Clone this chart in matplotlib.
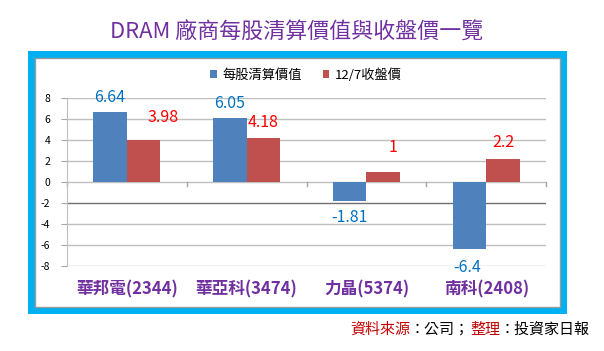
import matplotlib
matplotlib.use("Agg")
import matplotlib.pyplot as plt
from matplotlib.patches import Rectangle
import numpy as np

plt.rcParams["font.family"] = ["Noto Sans CJK TC", "DejaVu Sans"]

# data
categories = ["華邦電(2344)", "華亞科(3474)", "力晶(5374)", "南科(2408)"]
liquidation = [6.64, 6.05, -1.81, -6.4]
close_price = [3.98, 4.18, 1, 2.2]
liq_labels = ["6.64", "6.05", "-1.81", "-6.4"]
close_labels = ["3.98", "4.18", "1", "2.2"]
series_names = ["每股清算價值", "12/7收盤價"]
yticks = [-8, -6, -4, -2, 0, 2, 4, 6, 8]

W, H = 604, 351
fig = plt.figure(figsize=(W / 100, H / 100), dpi=100)

# outer blue frame and inner white panel
fig.patches.append(Rectangle((28 / W, 1 - 314 / H), 539 / W, 263 / H,
                             transform=fig.transFigure, facecolor="#00B0F0",
                             edgecolor="none", zorder=0))
fig.patches.append(Rectangle((35 / W, 1 - 307 / H), 525 / W, 249 / H,
                             transform=fig.transFigure, facecolor="white",
                             edgecolor="#9A9A9A", linewidth=1, zorder=1))

fig.text(297 / W, 1 - 33 / H, "DRAM 廠商每股清算價值與收盤價一覽", color="#7030A0",
         fontsize=15.8, fontweight="medium", ha="center", va="center")

ax = fig.add_axes([67 / W, 1 - 266 / H, 479 / W, 168 / H])
ax.set_zorder(2)
ax.patch.set_alpha(0)

x = np.arange(len(categories))
bw = 0.28
ax.bar(x - bw / 2, liquidation, bw, color="#4F81BD", label=series_names[0], zorder=3)
ax.bar(x + bw / 2, close_price, bw, color="#C0504D", label=series_names[1], zorder=3)

ax.set_xlim(-0.5, len(categories) - 0.5)
ax.set_ylim(-8, 8)
ax.set_yticks(yticks)
ax.set_yticklabels([str(t) for t in yticks], fontsize=7.5)
ax.tick_params(axis="y", length=4, color="#A6A6A6", pad=8)
ax.set_xticks([])
for t in yticks:
    ax.axhline(t, color="#6F6F6F" if t == -2 else "#BFBFBF", linewidth=1, zorder=1)
for s in ["top", "right", "bottom"]:
    ax.spines[s].set_visible(False)
ax.spines["left"].set_color("#BFBFBF")

# category tick marks on the zero line
for b in np.arange(len(categories) + 1) - 0.5:
    ax.plot([b, b], [0, -0.35], color="#A6A6A6", linewidth=1, zorder=2, clip_on=False)

# value labels (offsets in points, label centre relative to bar end)
liq_off = [(0, 11), (0, 11), (0, -12), (-1.5, -13)]
close_off = [(14, 16), (0, 11.5), (7, 17), (0, 11.5)]
for i in range(len(categories)):
    ax.annotate(liq_labels[i], (x[i] - bw / 2, liquidation[i]), xytext=liq_off[i],
                textcoords="offset points", ha="center", va="center",
                color="#0070C0", fontsize=11.5)
    ax.annotate(close_labels[i], (x[i] + bw / 2, close_price[i]), xytext=close_off[i],
                textcoords="offset points", ha="center", va="center",
                color="#FF0000", fontsize=11.5)

for i, c in enumerate(categories):
    ax.text(x[i], -10.2, c, ha="center", va="center", color="#7030A0",
            fontsize=12, fontweight="bold", clip_on=False)

ax.legend(loc="center", bbox_to_anchor=(239 / 479, 1 + 23 / 168), ncol=2,
          frameon=False, fontsize=9.5, handlelength=0.5, handleheight=0.5,
          handletextpad=0.4, columnspacing=1.6)

# source note
parts = [("資料來源", "#C00000"), ("：公司；", "black"), ("整理", "#C00000"), ("：投資家日報", "black")]
renderer = fig.canvas.get_renderer()
xpos = 350 / W
for txt, col in parts:
    t = fig.text(xpos, 1 - 330 / H, txt, color=col, fontsize=10.8, ha="left", va="center")
    bb = t.get_window_extent(renderer=renderer)
    xpos += bb.width / W

fig.savefig("out.png", dpi=100)
